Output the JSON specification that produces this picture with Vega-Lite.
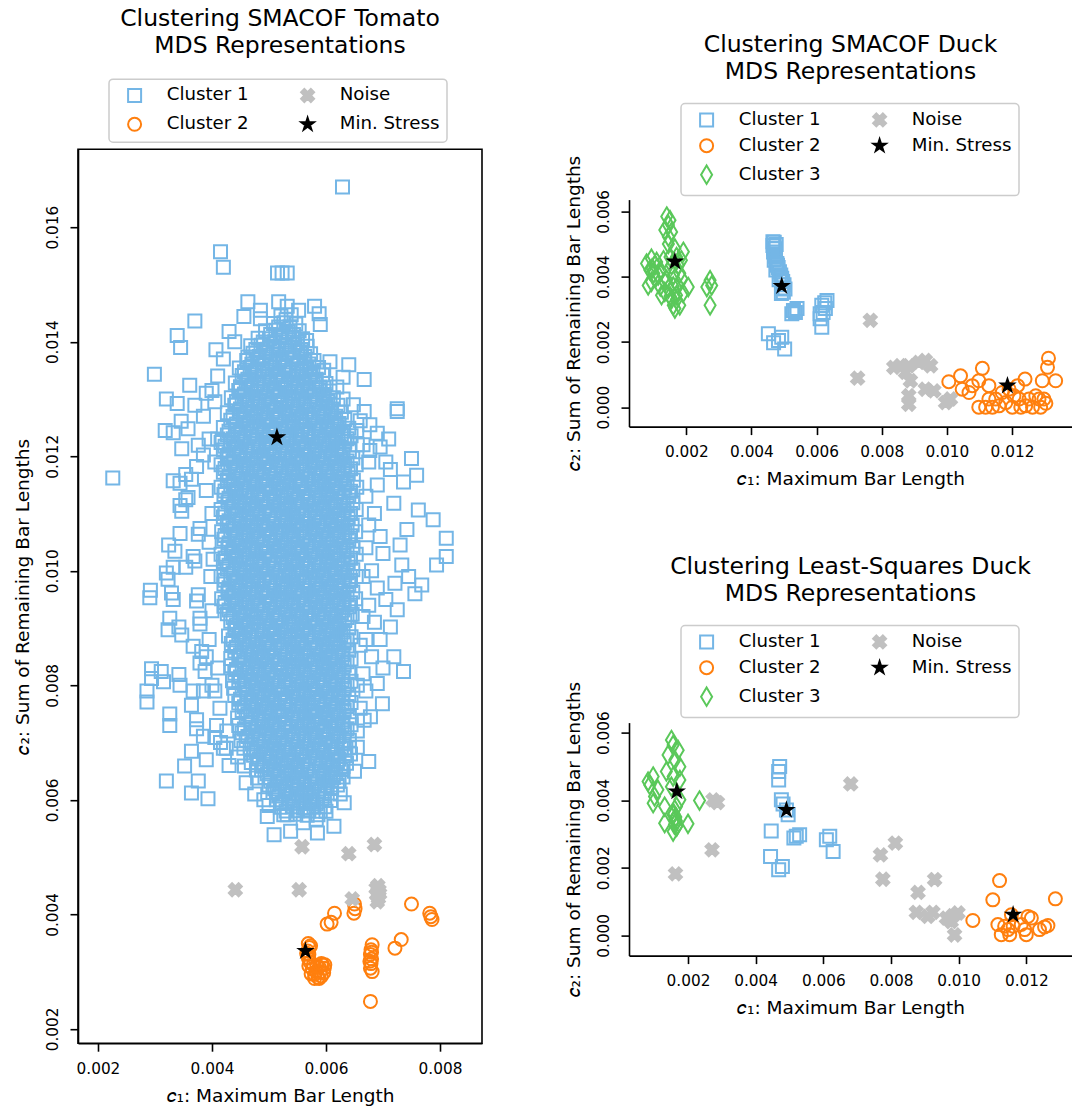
{
"$schema":"https://vega.github.io/schema/vega-lite/v6.json",
"background":"white",
"padding":{"left":12,"top":6,"right":0,"bottom":0},
"config":{
"font":"DejaVu Sans",
"view":{"stroke":null},
"axis":{"domainColor":"#000","domainWidth":1.6,"tickColor":"#000","tickWidth":1.6,"tickSize":8,"labelFontSize":15.3,"labelColor":"#000","titleFontSize":18.5,"titleFontWeight":"normal","titleColor":"#000","grid":false,"labelPadding":10,"titlePadding":10},
"axisY":{"labelAngle":270,"labelAlign":"center","labelBaseline":"alphabetic","labelPadding":13,"titlePadding":13},
"title":{"fontSize":23.5,"fontWeight":"normal","lineHeight":27,"color":"#000","anchor":"middle","offset":19},
"legend":{"orient":"none","columns":2,"labelFontSize":18.2,"labelColor":"#000","symbolSize":169,"symbolStrokeWidth":2,"padding":7,"rowPadding":7,"columnPadding":40,"labelOffset":23,"symbolOffset":9.5,"strokeColor":"#cccccc","strokeWidth":1.5,"fillColor":"#ffffff","cornerRadius":4,"labelLimit":300}
},
"datasets":{
"t1":[
{"x":0.00521,"y":0.01445},{"x":0.00539,"y":0.01447},
{"x":0.00508,"y":0.01432},{"x":0.00526,"y":0.01433},{"x":0.00547,"y":0.01431},
{"x":0.00494,"y":0.01419},{"x":0.00512,"y":0.0142},{"x":0.00534,"y":0.01418},{"x":0.00553,"y":0.01419},
{"x":0.00481,"y":0.01406},{"x":0.00501,"y":0.01405},{"x":0.0052,"y":0.01407},{"x":0.00541,"y":0.01406},{"x":0.00559,"y":0.01405},
{"x":0.00468,"y":0.01393},{"x":0.00486,"y":0.01394},{"x":0.00507,"y":0.01392},{"x":0.00528,"y":0.01393},{"x":0.00546,"y":0.01394},{"x":0.00567,"y":0.01392},
{"x":0.00472,"y":0.0138},{"x":0.00494,"y":0.01381},{"x":0.00513,"y":0.01379},{"x":0.00532,"y":0.0138},{"x":0.00554,"y":0.01381},{"x":0.00573,"y":0.01379},
{"x":0.00461,"y":0.01367},{"x":0.0048,"y":0.01368},{"x":0.00501,"y":0.01366},{"x":0.00519,"y":0.01367},{"x":0.0054,"y":0.01368},{"x":0.00561,"y":0.01366},{"x":0.00579,"y":0.01367},
{"x":0.00448,"y":0.01354},{"x":0.00467,"y":0.01355},{"x":0.00488,"y":0.01353},{"x":0.00506,"y":0.01354},{"x":0.00527,"y":0.01355},{"x":0.00548,"y":0.01353},{"x":0.00566,"y":0.01354},{"x":0.00587,"y":0.01355},
{"x":0.00453,"y":0.01341},{"x":0.00474,"y":0.01342},{"x":0.00492,"y":0.0134},{"x":0.00513,"y":0.01341},{"x":0.00534,"y":0.01342},{"x":0.00552,"y":0.0134},{"x":0.00573,"y":0.01341},{"x":0.00594,"y":0.01342},
{"x":0.00441,"y":0.01328},{"x":0.0046,"y":0.01329},{"x":0.0048,"y":0.01327},{"x":0.00501,"y":0.01328},{"x":0.0052,"y":0.01329},{"x":0.00539,"y":0.01327},{"x":0.0056,"y":0.01328},{"x":0.00581,"y":0.01329},{"x":0.006,"y":0.01327},
{"x":0.00447,"y":0.01315},{"x":0.00468,"y":0.01316},{"x":0.00486,"y":0.01314},{"x":0.00507,"y":0.01315},{"x":0.00528,"y":0.01316},{"x":0.00546,"y":0.01314},{"x":0.00567,"y":0.01315},{"x":0.00588,"y":0.01316},{"x":0.00607,"y":0.01314},
{"x":0.00434,"y":0.01302},{"x":0.00453,"y":0.01303},{"x":0.00472,"y":0.01301},{"x":0.00493,"y":0.01302},{"x":0.00514,"y":0.01303},{"x":0.00533,"y":0.01301},{"x":0.00552,"y":0.01302},{"x":0.00573,"y":0.01303},{"x":0.00594,"y":0.01301},{"x":0.00613,"y":0.01302},
{"x":0.0044,"y":0.01289},{"x":0.00461,"y":0.0129},{"x":0.0048,"y":0.01288},{"x":0.00499,"y":0.01289},{"x":0.0052,"y":0.0129},{"x":0.00541,"y":0.01288},{"x":0.0056,"y":0.01289},{"x":0.00579,"y":0.0129},{"x":0.006,"y":0.01288},{"x":0.00621,"y":0.01289},
{"x":0.00427,"y":0.01276},{"x":0.00448,"y":0.01277},{"x":0.00467,"y":0.01275},{"x":0.00486,"y":0.01276},{"x":0.00507,"y":0.01277},{"x":0.00528,"y":0.01275},{"x":0.00547,"y":0.01276},{"x":0.00566,"y":0.01277},{"x":0.00587,"y":0.01275},{"x":0.00608,"y":0.01276},{"x":0.00627,"y":0.01277},
{"x":0.00433,"y":0.01263},{"x":0.00454,"y":0.01264},{"x":0.00473,"y":0.01262},{"x":0.00492,"y":0.01263},{"x":0.00513,"y":0.01264},{"x":0.00534,"y":0.01262},{"x":0.00553,"y":0.01263},{"x":0.00572,"y":0.01264},{"x":0.00593,"y":0.01262},{"x":0.00614,"y":0.01263},{"x":0.00633,"y":0.01264},
{"x":0.0042,"y":0.0125},{"x":0.00441,"y":0.01251},{"x":0.0046,"y":0.01249},{"x":0.00479,"y":0.0125},{"x":0.005,"y":0.01251},{"x":0.00521,"y":0.01249},{"x":0.0054,"y":0.0125},{"x":0.00559,"y":0.01251},{"x":0.0058,"y":0.01249},{"x":0.00601,"y":0.0125},{"x":0.0062,"y":0.01251},{"x":0.0064,"y":0.01249},
{"x":0.00427,"y":0.01237},{"x":0.00446,"y":0.01238},{"x":0.00467,"y":0.01236},{"x":0.00488,"y":0.01237},{"x":0.00507,"y":0.01238},{"x":0.00526,"y":0.01236},{"x":0.00547,"y":0.01237},{"x":0.00568,"y":0.01238},{"x":0.00587,"y":0.01236},{"x":0.00606,"y":0.01237},{"x":0.00627,"y":0.01238},{"x":0.00644,"y":0.01236},
{"x":0.00416,"y":0.01224},{"x":0.00433,"y":0.01224},{"x":0.00452,"y":0.01225},{"x":0.00473,"y":0.01223},{"x":0.00494,"y":0.01224},{"x":0.00513,"y":0.01225},{"x":0.00532,"y":0.01223},{"x":0.00553,"y":0.01224},{"x":0.00574,"y":0.01225},{"x":0.00593,"y":0.01223},{"x":0.00612,"y":0.01224},{"x":0.00633,"y":0.01225},
{"x":0.0042,"y":0.01211},{"x":0.00439,"y":0.01212},{"x":0.0046,"y":0.0121},{"x":0.00481,"y":0.01211},{"x":0.005,"y":0.01212},{"x":0.00519,"y":0.0121},{"x":0.0054,"y":0.01211},{"x":0.00561,"y":0.01212},{"x":0.0058,"y":0.0121},{"x":0.00599,"y":0.01211},{"x":0.0062,"y":0.01212},{"x":0.00641,"y":0.0121},
{"x":0.00427,"y":0.01198},{"x":0.00448,"y":0.01199},{"x":0.00467,"y":0.01197},{"x":0.00486,"y":0.01198},{"x":0.00507,"y":0.01199},{"x":0.00528,"y":0.01197},{"x":0.00547,"y":0.01198},{"x":0.00566,"y":0.01199},{"x":0.00587,"y":0.01197},{"x":0.00608,"y":0.01198},{"x":0.00627,"y":0.01199},{"x":0.00647,"y":0.01197},
{"x":0.00416,"y":0.01185},{"x":0.00433,"y":0.01186},{"x":0.00454,"y":0.01184},{"x":0.00473,"y":0.01185},{"x":0.00492,"y":0.01186},{"x":0.00513,"y":0.01184},{"x":0.00534,"y":0.01185},{"x":0.00553,"y":0.01186},{"x":0.00572,"y":0.01184},{"x":0.00593,"y":0.01185},{"x":0.00614,"y":0.01186},{"x":0.00633,"y":0.01184},{"x":0.00653,"y":0.01185},
{"x":0.0042,"y":0.01172},{"x":0.00441,"y":0.01173},{"x":0.0046,"y":0.01171},{"x":0.00479,"y":0.01172},{"x":0.005,"y":0.01173},{"x":0.00521,"y":0.01171},{"x":0.0054,"y":0.01172},{"x":0.00559,"y":0.01173},{"x":0.0058,"y":0.01171},{"x":0.00601,"y":0.01172},{"x":0.0062,"y":0.01173},{"x":0.00639,"y":0.01171},
{"x":0.00427,"y":0.01159},{"x":0.00446,"y":0.0116},{"x":0.00467,"y":0.01158},{"x":0.00488,"y":0.01159},{"x":0.00507,"y":0.0116},{"x":0.00526,"y":0.01158},{"x":0.00547,"y":0.01159},{"x":0.00568,"y":0.0116},{"x":0.00587,"y":0.01158},{"x":0.00606,"y":0.01159},{"x":0.00627,"y":0.0116},{"x":0.00648,"y":0.01158},
{"x":0.00416,"y":0.01146},{"x":0.00433,"y":0.01147},{"x":0.00452,"y":0.01145},{"x":0.00473,"y":0.01146},{"x":0.00494,"y":0.01147},{"x":0.00513,"y":0.01145},{"x":0.00532,"y":0.01146},{"x":0.00553,"y":0.01147},{"x":0.00574,"y":0.01145},{"x":0.00593,"y":0.01146},{"x":0.00612,"y":0.01147},{"x":0.00633,"y":0.01145},{"x":0.00654,"y":0.01146},
{"x":0.00421,"y":0.01133},{"x":0.0044,"y":0.01134},{"x":0.00459,"y":0.01132},{"x":0.0048,"y":0.01133},{"x":0.00501,"y":0.01134},{"x":0.0052,"y":0.01132},{"x":0.00539,"y":0.01133},{"x":0.0056,"y":0.01134},{"x":0.00581,"y":0.01132},{"x":0.006,"y":0.01133},{"x":0.00619,"y":0.01134},{"x":0.0064,"y":0.01132},
{"x":0.00428,"y":0.0112},{"x":0.00447,"y":0.01121},{"x":0.00466,"y":0.01119},{"x":0.00487,"y":0.0112},{"x":0.00508,"y":0.01121},{"x":0.00527,"y":0.01119},{"x":0.00546,"y":0.0112},{"x":0.00567,"y":0.01121},{"x":0.00588,"y":0.01119},{"x":0.00607,"y":0.0112},{"x":0.00626,"y":0.01121},{"x":0.00647,"y":0.01119},
{"x":0.00416,"y":0.01107},{"x":0.00434,"y":0.01108},{"x":0.00453,"y":0.01106},{"x":0.00472,"y":0.01107},{"x":0.00493,"y":0.01108},{"x":0.00514,"y":0.01106},{"x":0.00533,"y":0.01107},{"x":0.00552,"y":0.01108},{"x":0.00573,"y":0.01106},{"x":0.00594,"y":0.01107},{"x":0.00613,"y":0.01108},{"x":0.00632,"y":0.01106},{"x":0.00653,"y":0.01107},
{"x":0.0042,"y":0.01094},{"x":0.00441,"y":0.01095},{"x":0.0046,"y":0.01093},{"x":0.00479,"y":0.01094},{"x":0.005,"y":0.01095},{"x":0.00521,"y":0.01093},{"x":0.0054,"y":0.01094},{"x":0.00559,"y":0.01095},{"x":0.0058,"y":0.01093},{"x":0.00601,"y":0.01094},{"x":0.0062,"y":0.01095},{"x":0.00639,"y":0.01093},
{"x":0.00427,"y":0.01081},{"x":0.00448,"y":0.01082},{"x":0.00467,"y":0.0108},{"x":0.00486,"y":0.01081},{"x":0.00507,"y":0.01082},{"x":0.00528,"y":0.0108},{"x":0.00547,"y":0.01081},{"x":0.00566,"y":0.01082},{"x":0.00587,"y":0.0108},{"x":0.00608,"y":0.01081},{"x":0.00627,"y":0.01082},{"x":0.00646,"y":0.0108},
{"x":0.00417,"y":0.01068},{"x":0.00433,"y":0.01069},{"x":0.00454,"y":0.01067},{"x":0.00473,"y":0.01068},{"x":0.00492,"y":0.01069},{"x":0.00513,"y":0.01067},{"x":0.00534,"y":0.01068},{"x":0.00553,"y":0.01069},{"x":0.00572,"y":0.01067},{"x":0.00593,"y":0.01068},{"x":0.00614,"y":0.01069},{"x":0.00633,"y":0.01067},{"x":0.00652,"y":0.01068},
{"x":0.00421,"y":0.01055},{"x":0.0044,"y":0.01056},{"x":0.00459,"y":0.01054},{"x":0.0048,"y":0.01055},{"x":0.00501,"y":0.01056},{"x":0.0052,"y":0.01054},{"x":0.00539,"y":0.01055},{"x":0.0056,"y":0.01056},{"x":0.00581,"y":0.01054},{"x":0.006,"y":0.01055},{"x":0.00619,"y":0.01056},{"x":0.0064,"y":0.01054},
{"x":0.00428,"y":0.01042},{"x":0.00447,"y":0.01043},{"x":0.00466,"y":0.01041},{"x":0.00487,"y":0.01042},{"x":0.00508,"y":0.01043},{"x":0.00527,"y":0.01041},{"x":0.00546,"y":0.01042},{"x":0.00567,"y":0.01043},{"x":0.00588,"y":0.01041},{"x":0.00607,"y":0.01042},{"x":0.00626,"y":0.01043},{"x":0.00647,"y":0.01041},
{"x":0.00416,"y":0.01029},{"x":0.00434,"y":0.0103},{"x":0.00453,"y":0.01028},{"x":0.00472,"y":0.01029},{"x":0.00493,"y":0.0103},{"x":0.00514,"y":0.01028},{"x":0.00533,"y":0.01029},{"x":0.00552,"y":0.0103},{"x":0.00573,"y":0.01028},{"x":0.00594,"y":0.01029},{"x":0.00613,"y":0.0103},{"x":0.00632,"y":0.01028},{"x":0.00653,"y":0.01029},
{"x":0.0042,"y":0.01016},{"x":0.00441,"y":0.01017},{"x":0.0046,"y":0.01015},{"x":0.00479,"y":0.01016},{"x":0.005,"y":0.01017},{"x":0.00521,"y":0.01015},{"x":0.0054,"y":0.01016},{"x":0.00559,"y":0.01017},{"x":0.0058,"y":0.01015},{"x":0.00601,"y":0.01016},{"x":0.0062,"y":0.01017},{"x":0.00639,"y":0.01015},
{"x":0.00427,"y":0.01003},{"x":0.00448,"y":0.01004},{"x":0.00467,"y":0.01002},{"x":0.00486,"y":0.01003},{"x":0.00507,"y":0.01004},{"x":0.00528,"y":0.01002},{"x":0.00547,"y":0.01003},{"x":0.00566,"y":0.01004},{"x":0.00587,"y":0.01002},{"x":0.00608,"y":0.01003},{"x":0.00627,"y":0.01004},{"x":0.00647,"y":0.01002},
{"x":0.00416,"y":0.0099},{"x":0.00433,"y":0.00991},{"x":0.00454,"y":0.00989},{"x":0.00473,"y":0.0099},{"x":0.00492,"y":0.00991},{"x":0.00513,"y":0.00989},{"x":0.00534,"y":0.0099},{"x":0.00553,"y":0.00991},{"x":0.00572,"y":0.00989},{"x":0.00593,"y":0.0099},{"x":0.00614,"y":0.00991},{"x":0.00633,"y":0.00989},{"x":0.00653,"y":0.0099},
{"x":0.00421,"y":0.00977},{"x":0.0044,"y":0.00978},{"x":0.00459,"y":0.00976},{"x":0.0048,"y":0.00977},{"x":0.00501,"y":0.00978},{"x":0.0052,"y":0.00976},{"x":0.00539,"y":0.00977},{"x":0.0056,"y":0.00978},{"x":0.00581,"y":0.00976},{"x":0.006,"y":0.00977},{"x":0.00619,"y":0.00978},{"x":0.0064,"y":0.00976},
{"x":0.00428,"y":0.00964},{"x":0.00447,"y":0.00965},{"x":0.00466,"y":0.00963},{"x":0.00487,"y":0.00964},{"x":0.00508,"y":0.00965},{"x":0.00527,"y":0.00963},{"x":0.00546,"y":0.00964},{"x":0.00567,"y":0.00965},{"x":0.00588,"y":0.00963},{"x":0.00607,"y":0.00964},{"x":0.00626,"y":0.00965},{"x":0.00647,"y":0.00963},
{"x":0.00417,"y":0.00951},{"x":0.00434,"y":0.00952},{"x":0.00453,"y":0.0095},{"x":0.00472,"y":0.00951},{"x":0.00493,"y":0.00952},{"x":0.00514,"y":0.0095},{"x":0.00533,"y":0.00951},{"x":0.00552,"y":0.00952},{"x":0.00573,"y":0.0095},{"x":0.00594,"y":0.00951},{"x":0.00613,"y":0.00952},{"x":0.00632,"y":0.0095},{"x":0.00652,"y":0.00951},
{"x":0.00421,"y":0.00938},{"x":0.0044,"y":0.00939},{"x":0.00459,"y":0.00937},{"x":0.0048,"y":0.00938},{"x":0.00501,"y":0.00939},{"x":0.0052,"y":0.00937},{"x":0.00539,"y":0.00938},{"x":0.0056,"y":0.00939},{"x":0.00581,"y":0.00937},{"x":0.006,"y":0.00938},{"x":0.00619,"y":0.00939},{"x":0.0064,"y":0.00937},
{"x":0.00427,"y":0.00925},{"x":0.00448,"y":0.00926},{"x":0.00467,"y":0.00924},{"x":0.00486,"y":0.00925},{"x":0.00507,"y":0.00926},{"x":0.00528,"y":0.00924},{"x":0.00547,"y":0.00925},{"x":0.00566,"y":0.00926},{"x":0.00587,"y":0.00924},{"x":0.00608,"y":0.00925},{"x":0.00627,"y":0.00926},{"x":0.00646,"y":0.00924},
{"x":0.00433,"y":0.00912},{"x":0.00454,"y":0.00913},{"x":0.00473,"y":0.00911},{"x":0.00492,"y":0.00912},{"x":0.00513,"y":0.00913},{"x":0.00534,"y":0.00911},{"x":0.00553,"y":0.00912},{"x":0.00572,"y":0.00913},{"x":0.00593,"y":0.00911},{"x":0.00614,"y":0.00912},{"x":0.00633,"y":0.00913},
{"x":0.0044,"y":0.00899},{"x":0.00459,"y":0.009},{"x":0.0048,"y":0.00898},{"x":0.00501,"y":0.00899},{"x":0.0052,"y":0.009},{"x":0.00539,"y":0.00898},{"x":0.0056,"y":0.00899},{"x":0.00581,"y":0.009},{"x":0.006,"y":0.00898},{"x":0.00619,"y":0.00899},{"x":0.0064,"y":0.009},
{"x":0.00429,"y":0.00886},{"x":0.00447,"y":0.00887},{"x":0.00466,"y":0.00885},{"x":0.00487,"y":0.00886},{"x":0.00508,"y":0.00887},{"x":0.00527,"y":0.00885},{"x":0.00546,"y":0.00886},{"x":0.00567,"y":0.00887},{"x":0.00588,"y":0.00885},{"x":0.00607,"y":0.00886},{"x":0.00626,"y":0.00887},{"x":0.00644,"y":0.00885},
{"x":0.00434,"y":0.00873},{"x":0.00453,"y":0.00874},{"x":0.00472,"y":0.00872},{"x":0.00493,"y":0.00873},{"x":0.00514,"y":0.00874},{"x":0.00533,"y":0.00872},{"x":0.00552,"y":0.00873},{"x":0.00573,"y":0.00874},{"x":0.00594,"y":0.00872},{"x":0.00613,"y":0.00873},{"x":0.00632,"y":0.00874},
{"x":0.0044,"y":0.0086},{"x":0.00461,"y":0.00861},{"x":0.0048,"y":0.00859},{"x":0.00499,"y":0.0086},{"x":0.0052,"y":0.00861},{"x":0.00541,"y":0.00859},{"x":0.0056,"y":0.0086},{"x":0.00579,"y":0.00861},{"x":0.006,"y":0.00859},{"x":0.00621,"y":0.0086},{"x":0.0064,"y":0.00861},
{"x":0.00433,"y":0.00847},{"x":0.00447,"y":0.00848},{"x":0.00468,"y":0.00846},{"x":0.00487,"y":0.00847},{"x":0.00506,"y":0.00848},{"x":0.00527,"y":0.00846},{"x":0.00548,"y":0.00847},{"x":0.00567,"y":0.00848},{"x":0.00586,"y":0.00846},{"x":0.00607,"y":0.00847},{"x":0.00628,"y":0.00848},{"x":0.00644,"y":0.00846},
{"x":0.00434,"y":0.00834},{"x":0.00453,"y":0.00835},{"x":0.00472,"y":0.00833},{"x":0.00493,"y":0.00834},{"x":0.00514,"y":0.00835},{"x":0.00533,"y":0.00833},{"x":0.00552,"y":0.00834},{"x":0.00573,"y":0.00835},{"x":0.00594,"y":0.00833},{"x":0.00613,"y":0.00834},{"x":0.00632,"y":0.00835},
{"x":0.0044,"y":0.00821},{"x":0.00461,"y":0.00822},{"x":0.0048,"y":0.0082},{"x":0.00499,"y":0.00821},{"x":0.0052,"y":0.00822},{"x":0.00541,"y":0.0082},{"x":0.0056,"y":0.00821},{"x":0.00579,"y":0.00822},{"x":0.006,"y":0.0082},{"x":0.00621,"y":0.00821},{"x":0.0064,"y":0.00822},
{"x":0.00436,"y":0.00808},{"x":0.00447,"y":0.00809},{"x":0.00468,"y":0.00807},{"x":0.00487,"y":0.00808},{"x":0.00506,"y":0.00809},{"x":0.00527,"y":0.00807},{"x":0.00548,"y":0.00808},{"x":0.00567,"y":0.00809},{"x":0.00586,"y":0.00807},{"x":0.00607,"y":0.00808},{"x":0.00628,"y":0.00809},{"x":0.00644,"y":0.00807},
{"x":0.00438,"y":0.00795},{"x":0.00453,"y":0.00795},{"x":0.00472,"y":0.00796},{"x":0.00493,"y":0.00794},{"x":0.00514,"y":0.00795},{"x":0.00533,"y":0.00796},{"x":0.00552,"y":0.00794},{"x":0.00573,"y":0.00795},{"x":0.00594,"y":0.00796},{"x":0.00613,"y":0.00794},{"x":0.00632,"y":0.00795},
{"x":0.0044,"y":0.00782},{"x":0.00461,"y":0.00783},{"x":0.0048,"y":0.00781},{"x":0.00499,"y":0.00782},{"x":0.0052,"y":0.00783},{"x":0.00541,"y":0.00781},{"x":0.0056,"y":0.00782},{"x":0.00579,"y":0.00783},{"x":0.006,"y":0.00781},{"x":0.00621,"y":0.00782},{"x":0.0064,"y":0.00783},
{"x":0.00447,"y":0.00769},{"x":0.00468,"y":0.0077},{"x":0.00487,"y":0.00768},{"x":0.00506,"y":0.00769},{"x":0.00527,"y":0.0077},{"x":0.00548,"y":0.00768},{"x":0.00567,"y":0.00769},{"x":0.00586,"y":0.0077},{"x":0.00607,"y":0.00768},{"x":0.00628,"y":0.00769},{"x":0.00644,"y":0.0077},
{"x":0.00453,"y":0.00756},{"x":0.00472,"y":0.00757},{"x":0.00493,"y":0.00755},{"x":0.00514,"y":0.00756},{"x":0.00533,"y":0.00757},{"x":0.00552,"y":0.00755},{"x":0.00573,"y":0.00756},{"x":0.00594,"y":0.00757},{"x":0.00613,"y":0.00755},{"x":0.00632,"y":0.00756},
{"x":0.00445,"y":0.00743},{"x":0.0046,"y":0.00744},{"x":0.00481,"y":0.00742},{"x":0.005,"y":0.00743},{"x":0.00519,"y":0.00744},{"x":0.0054,"y":0.00742},{"x":0.00561,"y":0.00743},{"x":0.0058,"y":0.00744},{"x":0.00599,"y":0.00742},{"x":0.0062,"y":0.00743},{"x":0.00641,"y":0.00744},
{"x":0.00447,"y":0.0073},{"x":0.00468,"y":0.00731},{"x":0.00487,"y":0.00729},{"x":0.00506,"y":0.0073},{"x":0.00527,"y":0.00731},{"x":0.00548,"y":0.00729},{"x":0.00567,"y":0.0073},{"x":0.00586,"y":0.00731},{"x":0.00607,"y":0.00729},{"x":0.00628,"y":0.0073},{"x":0.00644,"y":0.00731},
{"x":0.00453,"y":0.00717},{"x":0.00472,"y":0.00718},{"x":0.00493,"y":0.00716},{"x":0.00514,"y":0.00717},{"x":0.00533,"y":0.00718},{"x":0.00552,"y":0.00716},{"x":0.00573,"y":0.00717},{"x":0.00594,"y":0.00718},{"x":0.00613,"y":0.00716},{"x":0.00632,"y":0.00717},
{"x":0.00451,"y":0.00703},{"x":0.0046,"y":0.00704},{"x":0.00481,"y":0.00705},{"x":0.005,"y":0.00703},{"x":0.00519,"y":0.00704},{"x":0.0054,"y":0.00705},{"x":0.00561,"y":0.00703},{"x":0.0058,"y":0.00704},{"x":0.00599,"y":0.00705},{"x":0.0062,"y":0.00703},{"x":0.00641,"y":0.00704},
{"x":0.00456,"y":0.0069},{"x":0.00467,"y":0.00691},{"x":0.00486,"y":0.00692},{"x":0.00507,"y":0.0069},{"x":0.00528,"y":0.00691},{"x":0.00547,"y":0.00692},{"x":0.00566,"y":0.0069},{"x":0.00587,"y":0.00691},{"x":0.00608,"y":0.00692},{"x":0.00627,"y":0.0069},{"x":0.00641,"y":0.00691},
{"x":0.00473,"y":0.00678},{"x":0.00492,"y":0.00679},{"x":0.00513,"y":0.00677},{"x":0.00534,"y":0.00678},{"x":0.00553,"y":0.00679},{"x":0.00572,"y":0.00677},{"x":0.00593,"y":0.00678},{"x":0.00614,"y":0.00679},{"x":0.00633,"y":0.00677},
{"x":0.00469,"y":0.00665},{"x":0.0048,"y":0.00665},{"x":0.00501,"y":0.00666},{"x":0.0052,"y":0.00664},{"x":0.00539,"y":0.00665},{"x":0.0056,"y":0.00666},{"x":0.00581,"y":0.00664},{"x":0.006,"y":0.00665},{"x":0.00619,"y":0.00666},{"x":0.00636,"y":0.00664},
{"x":0.00478,"y":0.00652},{"x":0.00487,"y":0.00652},{"x":0.00508,"y":0.00653},{"x":0.00527,"y":0.00651},{"x":0.00546,"y":0.00652},{"x":0.00567,"y":0.00653},{"x":0.00588,"y":0.00651},{"x":0.00607,"y":0.00652},{"x":0.00626,"y":0.00653},
{"x":0.00493,"y":0.00639},{"x":0.00514,"y":0.0064},{"x":0.00533,"y":0.00638},{"x":0.00552,"y":0.00639},{"x":0.00573,"y":0.0064},{"x":0.00594,"y":0.00638},{"x":0.00613,"y":0.00639},{"x":0.0063,"y":0.0064},
{"x":0.005,"y":0.00626},{"x":0.00519,"y":0.00627},{"x":0.0054,"y":0.00625},{"x":0.00561,"y":0.00626},{"x":0.0058,"y":0.00627},{"x":0.00599,"y":0.00625},{"x":0.0062,"y":0.00626},
{"x":0.00507,"y":0.00613},{"x":0.00528,"y":0.00614},{"x":0.00547,"y":0.00612},{"x":0.00566,"y":0.00613},{"x":0.00587,"y":0.00614},{"x":0.00608,"y":0.00612},
{"x":0.00513,"y":0.006},{"x":0.00534,"y":0.00601},{"x":0.00553,"y":0.00599},{"x":0.00572,"y":0.006},{"x":0.00593,"y":0.00601},{"x":0.00608,"y":0.00599},
{"x":0.0052,"y":0.00587},{"x":0.00541,"y":0.00588},{"x":0.0056,"y":0.00586},{"x":0.00579,"y":0.00587},{"x":0.00598,"y":0.00588},
{"x":0.00532,"y":0.00574},{"x":0.00547,"y":0.00575},{"x":0.00567,"y":0.00573},{"x":0.00586,"y":0.00574},
{"x":0.0053,"y":0.014385},
{"x":0.00517,"y":0.014255},{"x":0.00537,"y":0.01426},
{"x":0.00503,"y":0.014125},{"x":0.00523,"y":0.01412},{"x":0.00543,"y":0.014125},
{"x":0.0049,"y":0.013995},{"x":0.0051,"y":0.014},{"x":0.0053,"y":0.013995},{"x":0.0055,"y":0.01399},
{"x":0.00477,"y":0.013865},{"x":0.00497,"y":0.01387},{"x":0.00517,"y":0.013865},{"x":0.00537,"y":0.01386},{"x":0.00557,"y":0.013865},
{"x":0.00463,"y":0.013735},{"x":0.00483,"y":0.01374},{"x":0.00503,"y":0.013735},{"x":0.00523,"y":0.01373},{"x":0.00543,"y":0.013735},{"x":0.00563,"y":0.01374},
{"x":0.0047,"y":0.013605},{"x":0.0049,"y":0.01361},{"x":0.0051,"y":0.013605},{"x":0.0053,"y":0.0136},{"x":0.0055,"y":0.013605},{"x":0.0057,"y":0.01361},
{"x":0.00457,"y":0.013475},{"x":0.00477,"y":0.01348},{"x":0.00497,"y":0.013475},{"x":0.00517,"y":0.01347},{"x":0.00537,"y":0.013475},{"x":0.00557,"y":0.01348},{"x":0.00577,"y":0.013475},
{"x":0.00463,"y":0.013345},{"x":0.00483,"y":0.01335},{"x":0.00503,"y":0.013345},{"x":0.00523,"y":0.01334},{"x":0.00543,"y":0.013345},{"x":0.00563,"y":0.01335},{"x":0.00583,"y":0.013345},
{"x":0.0045,"y":0.013215},{"x":0.0047,"y":0.01322},{"x":0.0049,"y":0.013215},{"x":0.0051,"y":0.01321},{"x":0.0053,"y":0.013215},{"x":0.0055,"y":0.01322},{"x":0.0057,"y":0.013215},{"x":0.0059,"y":0.01321},
{"x":0.00457,"y":0.013085},{"x":0.00477,"y":0.01309},{"x":0.00497,"y":0.013085},{"x":0.00517,"y":0.01308},{"x":0.00537,"y":0.013085},{"x":0.00557,"y":0.01309},{"x":0.00577,"y":0.013085},{"x":0.00597,"y":0.01308},
{"x":0.00443,"y":0.012955},{"x":0.00463,"y":0.01296},{"x":0.00483,"y":0.012955},{"x":0.00503,"y":0.01295},{"x":0.00523,"y":0.012955},{"x":0.00543,"y":0.01296},{"x":0.00563,"y":0.012955},{"x":0.00583,"y":0.01295},{"x":0.00603,"y":0.012955},
{"x":0.0045,"y":0.012825},{"x":0.0047,"y":0.01283},{"x":0.0049,"y":0.012825},{"x":0.0051,"y":0.01282},{"x":0.0053,"y":0.012825},{"x":0.0055,"y":0.01283},{"x":0.0057,"y":0.012825},{"x":0.0059,"y":0.01282},{"x":0.0061,"y":0.012825},
{"x":0.00437,"y":0.012695},{"x":0.00457,"y":0.0127},{"x":0.00477,"y":0.012695},{"x":0.00497,"y":0.01269},{"x":0.00517,"y":0.012695},{"x":0.00537,"y":0.0127},{"x":0.00557,"y":0.012695},{"x":0.00577,"y":0.01269},{"x":0.00597,"y":0.012695},{"x":0.00617,"y":0.0127},
{"x":0.00443,"y":0.012565},{"x":0.00463,"y":0.01257},{"x":0.00483,"y":0.012565},{"x":0.00503,"y":0.01256},{"x":0.00523,"y":0.012565},{"x":0.00543,"y":0.01257},{"x":0.00563,"y":0.012565},{"x":0.00583,"y":0.01256},{"x":0.00603,"y":0.012565},{"x":0.00623,"y":0.01257},
{"x":0.0043,"y":0.012435},{"x":0.0045,"y":0.01244},{"x":0.0047,"y":0.012435},{"x":0.0049,"y":0.01243},{"x":0.0051,"y":0.012435},{"x":0.0053,"y":0.01244},{"x":0.0055,"y":0.012435},{"x":0.0057,"y":0.01243},{"x":0.0059,"y":0.012435},{"x":0.0061,"y":0.01244},{"x":0.0063,"y":0.012435},
{"x":0.00437,"y":0.012305},{"x":0.00457,"y":0.01231},{"x":0.00477,"y":0.012305},{"x":0.00497,"y":0.0123},{"x":0.00517,"y":0.012305},{"x":0.00537,"y":0.01231},{"x":0.00557,"y":0.012305},{"x":0.00577,"y":0.0123},{"x":0.00597,"y":0.012305},{"x":0.00617,"y":0.01231},{"x":0.00637,"y":0.012305},
{"x":0.00423,"y":0.012175},{"x":0.00443,"y":0.01218},{"x":0.00463,"y":0.012175},{"x":0.00483,"y":0.01217},{"x":0.00503,"y":0.012175},{"x":0.00523,"y":0.01218},{"x":0.00543,"y":0.012175},{"x":0.00563,"y":0.01217},{"x":0.00583,"y":0.012175},{"x":0.00603,"y":0.01218},{"x":0.00623,"y":0.012175},
{"x":0.0043,"y":0.012045},{"x":0.0045,"y":0.01205},{"x":0.0047,"y":0.012045},{"x":0.0049,"y":0.01204},{"x":0.0051,"y":0.012045},{"x":0.0053,"y":0.01205},{"x":0.0055,"y":0.012045},{"x":0.0057,"y":0.01204},{"x":0.0059,"y":0.012045},{"x":0.0061,"y":0.01205},{"x":0.0063,"y":0.012045},
{"x":0.00437,"y":0.011915},{"x":0.00457,"y":0.01192},{"x":0.00477,"y":0.011915},{"x":0.00497,"y":0.01191},{"x":0.00517,"y":0.011915},{"x":0.00537,"y":0.01192},{"x":0.00557,"y":0.011915},{"x":0.00577,"y":0.01191},{"x":0.00597,"y":0.011915},{"x":0.00617,"y":0.01192},{"x":0.00637,"y":0.011915},
{"x":0.00423,"y":0.011785},{"x":0.00443,"y":0.01179},{"x":0.00463,"y":0.011785},{"x":0.00483,"y":0.01178},{"x":0.00503,"y":0.011785},{"x":0.00523,"y":0.01179},{"x":0.00543,"y":0.011785},{"x":0.00563,"y":0.01178},{"x":0.00583,"y":0.011785},{"x":0.00603,"y":0.01179},{"x":0.00623,"y":0.011785},{"x":0.00643,"y":0.01178},
{"x":0.0043,"y":0.011655},{"x":0.0045,"y":0.01166},{"x":0.0047,"y":0.011655},{"x":0.0049,"y":0.01165},{"x":0.0051,"y":0.011655},{"x":0.0053,"y":0.01166},{"x":0.0055,"y":0.011655},{"x":0.0057,"y":0.01165},{"x":0.0059,"y":0.011655},{"x":0.0061,"y":0.01166},{"x":0.0063,"y":0.011655},
{"x":0.00437,"y":0.011525},{"x":0.00457,"y":0.01153},{"x":0.00477,"y":0.011525},{"x":0.00497,"y":0.01152},{"x":0.00517,"y":0.011525},{"x":0.00537,"y":0.01153},{"x":0.00557,"y":0.011525},{"x":0.00577,"y":0.01152},{"x":0.00597,"y":0.011525},{"x":0.00617,"y":0.01153},{"x":0.00637,"y":0.011525},
{"x":0.00423,"y":0.011395},{"x":0.00443,"y":0.0114},{"x":0.00463,"y":0.011395},{"x":0.00483,"y":0.01139},{"x":0.00503,"y":0.011395},{"x":0.00523,"y":0.0114},{"x":0.00543,"y":0.011395},{"x":0.00563,"y":0.01139},{"x":0.00583,"y":0.011395},{"x":0.00603,"y":0.0114},{"x":0.00623,"y":0.011395},{"x":0.00643,"y":0.01139},
{"x":0.0043,"y":0.011265},{"x":0.0045,"y":0.01127},{"x":0.0047,"y":0.011265},{"x":0.0049,"y":0.01126},{"x":0.0051,"y":0.011265},{"x":0.0053,"y":0.01127},{"x":0.0055,"y":0.011265},{"x":0.0057,"y":0.01126},{"x":0.0059,"y":0.011265},{"x":0.0061,"y":0.01127},{"x":0.0063,"y":0.011265},
{"x":0.00437,"y":0.011135},{"x":0.00457,"y":0.01114},{"x":0.00477,"y":0.011135},{"x":0.00497,"y":0.01113},{"x":0.00517,"y":0.011135},{"x":0.00537,"y":0.01114},{"x":0.00557,"y":0.011135},{"x":0.00577,"y":0.01113},{"x":0.00597,"y":0.011135},{"x":0.00617,"y":0.01114},{"x":0.00637,"y":0.011135},
{"x":0.00423,"y":0.011005},{"x":0.00443,"y":0.01101},{"x":0.00463,"y":0.011005},{"x":0.00483,"y":0.011},{"x":0.00503,"y":0.011005},{"x":0.00523,"y":0.01101},{"x":0.00543,"y":0.011005},{"x":0.00563,"y":0.011},{"x":0.00583,"y":0.011005},{"x":0.00603,"y":0.01101},{"x":0.00623,"y":0.011005},{"x":0.00643,"y":0.011},
{"x":0.0043,"y":0.010875},{"x":0.0045,"y":0.01088},{"x":0.0047,"y":0.010875},{"x":0.0049,"y":0.01087},{"x":0.0051,"y":0.010875},{"x":0.0053,"y":0.01088},{"x":0.0055,"y":0.010875},{"x":0.0057,"y":0.01087},{"x":0.0059,"y":0.010875},{"x":0.0061,"y":0.01088},{"x":0.0063,"y":0.010875},
{"x":0.00437,"y":0.010745},{"x":0.00457,"y":0.01075},{"x":0.00477,"y":0.010745},{"x":0.00497,"y":0.01074},{"x":0.00517,"y":0.010745},{"x":0.00537,"y":0.01075},{"x":0.00557,"y":0.010745},{"x":0.00577,"y":0.01074},{"x":0.00597,"y":0.010745},{"x":0.00617,"y":0.01075},{"x":0.00637,"y":0.010745},
{"x":0.00423,"y":0.010615},{"x":0.00443,"y":0.01062},{"x":0.00463,"y":0.010615},{"x":0.00483,"y":0.01061},{"x":0.00503,"y":0.010615},{"x":0.00523,"y":0.01062},{"x":0.00543,"y":0.010615},{"x":0.00563,"y":0.01061},{"x":0.00583,"y":0.010615},{"x":0.00603,"y":0.01062},{"x":0.00623,"y":0.010615},{"x":0.00643,"y":0.01061},
{"x":0.0043,"y":0.010485},{"x":0.0045,"y":0.01049},{"x":0.0047,"y":0.010485},{"x":0.0049,"y":0.01048},{"x":0.0051,"y":0.010485},{"x":0.0053,"y":0.01049},{"x":0.0055,"y":0.010485},{"x":0.0057,"y":0.01048},{"x":0.0059,"y":0.010485},{"x":0.0061,"y":0.01049},{"x":0.0063,"y":0.010485},
{"x":0.00437,"y":0.010355},{"x":0.00457,"y":0.01036},{"x":0.00477,"y":0.010355},{"x":0.00497,"y":0.01035},{"x":0.00517,"y":0.010355},{"x":0.00537,"y":0.01036},{"x":0.00557,"y":0.010355},{"x":0.00577,"y":0.01035},{"x":0.00597,"y":0.010355},{"x":0.00617,"y":0.01036},{"x":0.00637,"y":0.010355},
{"x":0.00423,"y":0.010225},{"x":0.00443,"y":0.01023},{"x":0.00463,"y":0.010225},{"x":0.00483,"y":0.01022},{"x":0.00503,"y":0.010225},{"x":0.00523,"y":0.01023},{"x":0.00543,"y":0.010225},{"x":0.00563,"y":0.01022},{"x":0.00583,"y":0.010225},{"x":0.00603,"y":0.01023},{"x":0.00623,"y":0.010225},{"x":0.00643,"y":0.01022},
{"x":0.0043,"y":0.010095},{"x":0.0045,"y":0.0101},{"x":0.0047,"y":0.010095},{"x":0.0049,"y":0.01009},{"x":0.0051,"y":0.010095},{"x":0.0053,"y":0.0101},{"x":0.0055,"y":0.010095},{"x":0.0057,"y":0.01009},{"x":0.0059,"y":0.010095},{"x":0.0061,"y":0.0101},{"x":0.0063,"y":0.010095},
{"x":0.00437,"y":0.009965},{"x":0.00457,"y":0.00997},{"x":0.00477,"y":0.009965},{"x":0.00497,"y":0.00996},{"x":0.00517,"y":0.009965},{"x":0.00537,"y":0.00997},{"x":0.00557,"y":0.009965},{"x":0.00577,"y":0.00996},{"x":0.00597,"y":0.009965},{"x":0.00617,"y":0.00997},{"x":0.00637,"y":0.009965},
{"x":0.00423,"y":0.009835},{"x":0.00443,"y":0.00984},{"x":0.00463,"y":0.009835},{"x":0.00483,"y":0.00983},{"x":0.00503,"y":0.009835},{"x":0.00523,"y":0.00984},{"x":0.00543,"y":0.009835},{"x":0.00563,"y":0.00983},{"x":0.00583,"y":0.009835},{"x":0.00603,"y":0.00984},{"x":0.00623,"y":0.009835},{"x":0.00643,"y":0.00983},
{"x":0.0043,"y":0.009705},{"x":0.0045,"y":0.00971},{"x":0.0047,"y":0.009705},{"x":0.0049,"y":0.0097},{"x":0.0051,"y":0.009705},{"x":0.0053,"y":0.00971},{"x":0.0055,"y":0.009705},{"x":0.0057,"y":0.0097},{"x":0.0059,"y":0.009705},{"x":0.0061,"y":0.00971},{"x":0.0063,"y":0.009705},
{"x":0.00437,"y":0.009575},{"x":0.00457,"y":0.00958},{"x":0.00477,"y":0.009575},{"x":0.00497,"y":0.00957},{"x":0.00517,"y":0.009575},{"x":0.00537,"y":0.00958},{"x":0.00557,"y":0.009575},{"x":0.00577,"y":0.00957},{"x":0.00597,"y":0.009575},{"x":0.00617,"y":0.00958},{"x":0.00637,"y":0.009575},
{"x":0.00423,"y":0.009445},{"x":0.00443,"y":0.00945},{"x":0.00463,"y":0.009445},{"x":0.00483,"y":0.00944},{"x":0.00503,"y":0.009445},{"x":0.00523,"y":0.00945},{"x":0.00543,"y":0.009445},{"x":0.00563,"y":0.00944},{"x":0.00583,"y":0.009445},{"x":0.00603,"y":0.00945},{"x":0.00623,"y":0.009445},{"x":0.00643,"y":0.00944},
{"x":0.0043,"y":0.009315},{"x":0.0045,"y":0.00932},{"x":0.0047,"y":0.009315},{"x":0.0049,"y":0.00931},{"x":0.0051,"y":0.009315},{"x":0.0053,"y":0.00932},{"x":0.0055,"y":0.009315},{"x":0.0057,"y":0.00931},{"x":0.0059,"y":0.009315},{"x":0.0061,"y":0.00932},{"x":0.0063,"y":0.009315},
{"x":0.00437,"y":0.009185},{"x":0.00457,"y":0.00919},{"x":0.00477,"y":0.009185},{"x":0.00497,"y":0.00918},{"x":0.00517,"y":0.009185},{"x":0.00537,"y":0.00919},{"x":0.00557,"y":0.009185},{"x":0.00577,"y":0.00918},{"x":0.00597,"y":0.009185},{"x":0.00617,"y":0.00919},{"x":0.00637,"y":0.009185},
{"x":0.00443,"y":0.009055},{"x":0.00463,"y":0.00906},{"x":0.00483,"y":0.009055},{"x":0.00503,"y":0.00905},{"x":0.00523,"y":0.009055},{"x":0.00543,"y":0.00906},{"x":0.00563,"y":0.009055},{"x":0.00583,"y":0.00905},{"x":0.00603,"y":0.009055},{"x":0.00623,"y":0.00906},
{"x":0.0045,"y":0.008925},{"x":0.0047,"y":0.00893},{"x":0.0049,"y":0.008925},{"x":0.0051,"y":0.00892},{"x":0.0053,"y":0.008925},{"x":0.0055,"y":0.00893},{"x":0.0057,"y":0.008925},{"x":0.0059,"y":0.00892},{"x":0.0061,"y":0.008925},{"x":0.0063,"y":0.00893},
{"x":0.00437,"y":0.008795},{"x":0.00457,"y":0.0088},{"x":0.00477,"y":0.008795},{"x":0.00497,"y":0.00879},{"x":0.00517,"y":0.008795},{"x":0.00537,"y":0.0088},{"x":0.00557,"y":0.008795},{"x":0.00577,"y":0.00879},{"x":0.00597,"y":0.008795},{"x":0.00617,"y":0.0088},{"x":0.00637,"y":0.008795},
{"x":0.00443,"y":0.008665},{"x":0.00463,"y":0.00867},{"x":0.00483,"y":0.008665},{"x":0.00503,"y":0.00866},{"x":0.00523,"y":0.008665},{"x":0.00543,"y":0.00867},{"x":0.00563,"y":0.008665},{"x":0.00583,"y":0.00866},{"x":0.00603,"y":0.008665},{"x":0.00623,"y":0.00867},
{"x":0.0045,"y":0.008535},{"x":0.0047,"y":0.00854},{"x":0.0049,"y":0.008535},{"x":0.0051,"y":0.00853},{"x":0.0053,"y":0.008535},{"x":0.0055,"y":0.00854},{"x":0.0057,"y":0.008535},{"x":0.0059,"y":0.00853},{"x":0.0061,"y":0.008535},{"x":0.0063,"y":0.00854},
{"x":0.00457,"y":0.008405},{"x":0.00477,"y":0.00841},{"x":0.00497,"y":0.008405},{"x":0.00517,"y":0.0084},{"x":0.00537,"y":0.008405},{"x":0.00557,"y":0.00841},{"x":0.00577,"y":0.008405},{"x":0.00597,"y":0.0084},{"x":0.00617,"y":0.008405},{"x":0.00637,"y":0.00841},
{"x":0.00443,"y":0.008275},{"x":0.00463,"y":0.00828},{"x":0.00483,"y":0.008275},{"x":0.00503,"y":0.00827},{"x":0.00523,"y":0.008275},{"x":0.00543,"y":0.00828},{"x":0.00563,"y":0.008275},{"x":0.00583,"y":0.00827},{"x":0.00603,"y":0.008275},{"x":0.00623,"y":0.00828},
{"x":0.0045,"y":0.008145},{"x":0.0047,"y":0.00815},{"x":0.0049,"y":0.008145},{"x":0.0051,"y":0.00814},{"x":0.0053,"y":0.008145},{"x":0.0055,"y":0.00815},{"x":0.0057,"y":0.008145},{"x":0.0059,"y":0.00814},{"x":0.0061,"y":0.008145},{"x":0.0063,"y":0.00815},
{"x":0.00457,"y":0.008015},{"x":0.00477,"y":0.00802},{"x":0.00497,"y":0.008015},{"x":0.00517,"y":0.00801},{"x":0.00537,"y":0.008015},{"x":0.00557,"y":0.00802},{"x":0.00577,"y":0.008015},{"x":0.00597,"y":0.00801},{"x":0.00617,"y":0.008015},{"x":0.00637,"y":0.00802},
{"x":0.00463,"y":0.007885},{"x":0.00483,"y":0.00789},{"x":0.00503,"y":0.007885},{"x":0.00523,"y":0.00788},{"x":0.00543,"y":0.007885},{"x":0.00563,"y":0.00789},{"x":0.00583,"y":0.007885},{"x":0.00603,"y":0.00788},{"x":0.00623,"y":0.007885},
{"x":0.0045,"y":0.007755},{"x":0.0047,"y":0.00776},{"x":0.0049,"y":0.007755},{"x":0.0051,"y":0.00775},{"x":0.0053,"y":0.007755},{"x":0.0055,"y":0.00776},{"x":0.0057,"y":0.007755},{"x":0.0059,"y":0.00775},{"x":0.0061,"y":0.007755},{"x":0.0063,"y":0.00776},
{"x":0.00457,"y":0.007625},{"x":0.00477,"y":0.00763},{"x":0.00497,"y":0.007625},{"x":0.00517,"y":0.00762},{"x":0.00537,"y":0.007625},{"x":0.00557,"y":0.00763},{"x":0.00577,"y":0.007625},{"x":0.00597,"y":0.00762},{"x":0.00617,"y":0.007625},{"x":0.00637,"y":0.00763},
{"x":0.00463,"y":0.007495},{"x":0.00483,"y":0.0075},{"x":0.00503,"y":0.007495},{"x":0.00523,"y":0.00749},{"x":0.00543,"y":0.007495},{"x":0.00563,"y":0.0075},{"x":0.00583,"y":0.007495},{"x":0.00603,"y":0.00749},{"x":0.00623,"y":0.007495},
{"x":0.0047,"y":0.007365},{"x":0.0049,"y":0.00737},{"x":0.0051,"y":0.007365},{"x":0.0053,"y":0.00736},{"x":0.0055,"y":0.007365},{"x":0.0057,"y":0.00737},{"x":0.0059,"y":0.007365},{"x":0.0061,"y":0.00736},{"x":0.0063,"y":0.007365},
{"x":0.00457,"y":0.007235},{"x":0.00477,"y":0.00724},{"x":0.00497,"y":0.007235},{"x":0.00517,"y":0.00723},{"x":0.00537,"y":0.007235},{"x":0.00557,"y":0.00724},{"x":0.00577,"y":0.007235},{"x":0.00597,"y":0.00723},{"x":0.00617,"y":0.007235},{"x":0.00637,"y":0.00724},
{"x":0.00463,"y":0.007105},{"x":0.00483,"y":0.00711},{"x":0.00503,"y":0.007105},{"x":0.00523,"y":0.0071},{"x":0.00543,"y":0.007105},{"x":0.00563,"y":0.00711},{"x":0.00583,"y":0.007105},{"x":0.00603,"y":0.0071},{"x":0.00623,"y":0.007105},
{"x":0.0047,"y":0.006975},{"x":0.0049,"y":0.00698},{"x":0.0051,"y":0.006975},{"x":0.0053,"y":0.00697},{"x":0.0055,"y":0.006975},{"x":0.0057,"y":0.00698},{"x":0.0059,"y":0.006975},{"x":0.0061,"y":0.00697},{"x":0.0063,"y":0.006975},
{"x":0.00477,"y":0.006845},{"x":0.00497,"y":0.00685},{"x":0.00517,"y":0.006845},{"x":0.00537,"y":0.00684},{"x":0.00557,"y":0.006845},{"x":0.00577,"y":0.00685},{"x":0.00597,"y":0.006845},{"x":0.00617,"y":0.00684},
{"x":0.00483,"y":0.006715},{"x":0.00503,"y":0.00672},{"x":0.00523,"y":0.006715},{"x":0.00543,"y":0.00671},{"x":0.00563,"y":0.006715},{"x":0.00583,"y":0.00672},{"x":0.00603,"y":0.006715},{"x":0.00623,"y":0.00671},
{"x":0.0049,"y":0.006585},{"x":0.0051,"y":0.00659},{"x":0.0053,"y":0.006585},{"x":0.0055,"y":0.00658},{"x":0.0057,"y":0.006585},{"x":0.0059,"y":0.00659},{"x":0.0061,"y":0.006585},{"x":0.0063,"y":0.00658},
{"x":0.00497,"y":0.006455},{"x":0.00517,"y":0.00646},{"x":0.00537,"y":0.006455},{"x":0.00557,"y":0.00645},{"x":0.00577,"y":0.006455},{"x":0.00597,"y":0.00646},{"x":0.00617,"y":0.006455},
{"x":0.00503,"y":0.006325},{"x":0.00523,"y":0.00633},{"x":0.00543,"y":0.006325},{"x":0.00563,"y":0.00632},{"x":0.00583,"y":0.006325},{"x":0.00603,"y":0.00633},{"x":0.00623,"y":0.006325},
{"x":0.0051,"y":0.006195},{"x":0.0053,"y":0.0062},{"x":0.0055,"y":0.006195},{"x":0.0057,"y":0.00619},{"x":0.0059,"y":0.006195},{"x":0.0061,"y":0.0062},
{"x":0.00517,"y":0.006065},{"x":0.00537,"y":0.00607},{"x":0.00557,"y":0.006065},{"x":0.00577,"y":0.00606},{"x":0.00597,"y":0.006065},
{"x":0.00523,"y":0.005935},{"x":0.00543,"y":0.00594},{"x":0.00563,"y":0.005935},{"x":0.00583,"y":0.00593},
{"x":0.0053,"y":0.005805},{"x":0.0055,"y":0.00581},{"x":0.0057,"y":0.005805},{"x":0.0059,"y":0.0058},
{"x":0.00463,"y":0.0147},{"x":0.00517,"y":0.0147},{"x":0.0058,"y":0.01462},{"x":0.00588,"y":0.01449},{"x":0.0037,"y":0.01436},{"x":0.00339,"y":0.01411},{"x":0.00345,"y":0.0139},{"x":0.00299,"y":0.01343},{"x":0.00566,"y":0.01402},{"x":0.00607,"y":0.01365},{"x":0.00667,"y":0.01334},{"x":0.00725,"y":0.01283},{"x":0.00725,"y":0.01278},{"x":0.00667,"y":0.01278},{"x":0.0075,"y":0.01196},{"x":0.00318,"y":0.01245},{"x":0.00339,"y":0.01292},{"x":0.00361,"y":0.01324},{"x":0.00407,"y":0.01386},{"x":0.0043,"y":0.01418},{"x":0.00456,"y":0.01444},{"x":0.00485,"y":0.01455},{"x":0.00552,"y":0.01455},{"x":0.00532,"y":0.01462},{"x":0.00596,"y":0.0135},{"x":0.0063,"y":0.01338},{"x":0.00619,"y":0.01321},{"x":0.00648,"y":0.0129},{"x":0.00677,"y":0.01255},{"x":0.00654,"y":0.01245},{"x":0.00695,"y":0.01216},{"x":0.00677,"y":0.0121},{"x":0.0037,"y":0.01289},{"x":0.00358,"y":0.01248},{"x":0.00347,"y":0.01213},{"x":0.00376,"y":0.01219},{"x":0.0032,"y":0.013},{"x":0.00332,"y":0.01241},{"x":0.00346,"y":0.01261},{"x":0.0039,"y":0.0131},{"x":0.00385,"y":0.0127},{"x":0.00405,"y":0.01295},{"x":0.0041,"y":0.0134},{"x":0.0042,"y":0.0137},{"x":0.0063,"y":0.013},{"x":0.00655,"y":0.0122},{"x":0.0066,"y":0.01262},{"x":0.0069,"y":0.0124},{"x":0.0071,"y":0.0123},{"x":0.0064,"y":0.0136},{"x":0.0059,"y":0.0143},{"x":0.0044,"y":0.014},{"x":0.00485,"y":0.0144},{"x":0.00395,"y":0.0123},{"x":0.004,"y":0.01315},
{"x":0.00332,"y":0.01157},{"x":0.00347,"y":0.01104},{"x":0.00335,"y":0.01034},{"x":0.00323,"y":0.00985},{"x":0.00291,"y":0.00953},{"x":0.00332,"y":0.0095},{"x":0.00323,"y":0.00897},{"x":0.00347,"y":0.00888},{"x":0.00294,"y":0.00812},{"x":0.00315,"y":0.00806},{"x":0.00344,"y":0.008},{"x":0.00286,"y":0.00771},{"x":0.00326,"y":0.0073},{"x":0.00373,"y":0.00724},{"x":0.00405,"y":0.00709},{"x":0.00364,"y":0.00765},{"x":0.00364,"y":0.0116},{"x":0.00358,"y":0.01128},{"x":0.00376,"y":0.01064},{"x":0.0037,"y":0.01017},{"x":0.00376,"y":0.00958},{"x":0.00382,"y":0.00859},{"x":0.00379,"y":0.00917},{"x":0.00388,"y":0.00824},{"x":0.00344,"y":0.01153},{"x":0.00354,"y":0.01168},{"x":0.00373,"y":0.01182},{"x":0.00385,"y":0.01202},{"x":0.00344,"y":0.01114},{"x":0.00354,"y":0.01124},{"x":0.00344,"y":0.01065},{"x":0.00324,"y":0.01045},{"x":0.00379,"y":0.01074},{"x":0.0032,"y":0.00996},{"x":0.00332,"y":0.01006},{"x":0.00354,"y":0.01006},{"x":0.00367,"y":0.01025},{"x":0.00373,"y":0.00947},{"x":0.00379,"y":0.00907},{"x":0.00367,"y":0.00868},{"x":0.00379,"y":0.00839},{"x":0.00385,"y":0.0079},{"x":0.00367,"y":0.0079},{"x":0.00373,"y":0.0074},{"x":0.00385,"y":0.00711},{"x":0.00414,"y":0.0076},{"x":0.00408,"y":0.0073},{"x":0.00426,"y":0.0072},{"x":0.00292,"y":0.00966},{"x":0.00329,"y":0.00961},{"x":0.00326,"y":0.00917},{"x":0.00342,"y":0.00902},{"x":0.00294,"y":0.00829},{"x":0.00311,"y":0.00824},{"x":0.00342,"y":0.00819},{"x":0.00286,"y":0.0079},{"x":0.00326,"y":0.0075},{"x":0.004,"y":0.008},{"x":0.00395,"y":0.0088},{"x":0.004,"y":0.0093},{"x":0.00395,"y":0.0105},{"x":0.004,"y":0.011},{"x":0.0039,"y":0.0114},{"x":0.00405,"y":0.0119},{"x":0.00398,"y":0.0099},{"x":0.00402,"y":0.0102},{"x":0.0039,"y":0.0085},{"x":0.0041,"y":0.0083},{"x":0.00405,"y":0.0079},{"x":0.00415,"y":0.007},{"x":0.00425,"y":0.0069},{"x":0.0041,"y":0.0123},
{"x":0.00759,"y":0.01167},{"x":0.00736,"y":0.01155},{"x":0.00762,"y":0.01106},{"x":0.00788,"y":0.01089},{"x":0.00811,"y":0.01057},{"x":0.00811,"y":0.01025},{"x":0.00794,"y":0.0101},{"x":0.00768,"y":0.00975},{"x":0.00756,"y":0.0096},{"x":0.00733,"y":0.0101},{"x":0.00736,"y":0.00824},{"x":0.00699,"y":0.00768},{"x":0.00667,"y":0.00739},{"x":0.00655,"y":0.00692},{"x":0.00721,"y":0.00978},{"x":0.00742,"y":0.01072},{"x":0.00719,"y":0.01118},{"x":0.00713,"y":0.01177},{"x":0.00725,"y":0.00932},{"x":0.00713,"y":0.00902},{"x":0.00719,"y":0.0085},{"x":0.0069,"y":0.00803},{"x":0.00678,"y":0.00745},{"x":0.0069,"y":0.0115},{"x":0.00685,"y":0.011},{"x":0.00695,"y":0.0106},{"x":0.007,"y":0.0103},{"x":0.0068,"y":0.01},{"x":0.0069,"y":0.0097},{"x":0.00675,"y":0.0094},{"x":0.00685,"y":0.0091},{"x":0.0067,"y":0.0088},{"x":0.0068,"y":0.0085},{"x":0.00665,"y":0.0082},{"x":0.0067,"y":0.0079},{"x":0.0066,"y":0.0076},{"x":0.00675,"y":0.0119},{"x":0.0067,"y":0.0113},{"x":0.00675,"y":0.0108},{"x":0.0067,"y":0.0104},{"x":0.00665,"y":0.0099},{"x":0.00665,"y":0.0092},{"x":0.0066,"y":0.0087},{"x":0.00655,"y":0.008},{"x":0.00655,"y":0.0072},{"x":0.00665,"y":0.0122},{"x":0.00705,"y":0.0119},{"x":0.0073,"y":0.01045},{"x":0.00745,"y":0.0099},{"x":0.00705,"y":0.0095},{"x":0.00695,"y":0.0088},{"x":0.007,"y":0.0083},
{"x":0.0032,"y":0.00633},{"x":0.00352,"y":0.00659},{"x":0.00364,"y":0.00685},{"x":0.00364,"y":0.00612},{"x":0.00376,"y":0.00633},{"x":0.00393,"y":0.00602},{"x":0.00457,"y":0.00659},{"x":0.0048,"y":0.00638},{"x":0.00491,"y":0.006},{"x":0.00497,"y":0.00571},{"x":0.00509,"y":0.00539},{"x":0.00538,"y":0.00545},{"x":0.00585,"y":0.00542},{"x":0.00614,"y":0.00554},{"x":0.00632,"y":0.00595},{"x":0.00675,"y":0.00667},{"x":0.00643,"y":0.0068},{"x":0.00583,"y":0.00566},{"x":0.00563,"y":0.00586},{"x":0.00526,"y":0.00574},{"x":0.00514,"y":0.00615},{"x":0.00551,"y":0.00627},{"x":0.00597,"y":0.00615},{"x":0.00608,"y":0.00638},{"x":0.0062,"y":0.00667},{"x":0.00574,"y":0.00598},{"x":0.00533,"y":0.00668},{"x":0.00504,"y":0.0068},{"x":0.00445,"y":0.00675},{"x":0.0043,"y":0.0066},{"x":0.0046,"y":0.0063},{"x":0.00475,"y":0.0061},{"x":0.005,"y":0.0059},{"x":0.0056,"y":0.0056},{"x":0.006,"y":0.0058},{"x":0.00625,"y":0.0061},{"x":0.0065,"y":0.0065},{"x":0.00635,"y":0.0069},{"x":0.0042,"y":0.0069},{"x":0.0039,"y":0.0067},
{"x":0.00226,"y":0.01162},{"x":0.00629,"y":0.0167},{"x":0.00415,"y":0.01557},{"x":0.0042,"y":0.0153},{"x":0.00515,"y":0.0152},{"x":0.00523,"y":0.0152},{"x":0.00532,"y":0.0152}
],
"t2":[
{"x":0.00569,"y":0.00349},{"x":0.00571,"y":0.00342},{"x":0.00568,"y":0.00336},{"x":0.0057,"y":0.0033},{"x":0.00569,"y":0.00324},{"x":0.00572,"y":0.00317},{"x":0.0057,"y":0.0031},{"x":0.00566,"y":0.00332},{"x":0.00573,"y":0.00345},
{"x":0.00576,"y":0.00305},{"x":0.0058,"y":0.00295},{"x":0.00586,"y":0.0029},{"x":0.00592,"y":0.00292},{"x":0.00596,"y":0.00298},{"x":0.00597,"y":0.00306},{"x":0.00594,"y":0.00312},{"x":0.00588,"y":0.00308},{"x":0.00583,"y":0.003},{"x":0.00578,"y":0.00312},{"x":0.0059,"y":0.003},{"x":0.00584,"y":0.0031},{"x":0.00574,"y":0.00296},{"x":0.00598,"y":0.00312},{"x":0.00592,"y":0.00314},{"x":0.00588,"y":0.00288},{"x":0.0058,"y":0.00288},
{"x":0.00679,"y":0.00338},{"x":0.00678,"y":0.0033},{"x":0.0068,"y":0.00322},{"x":0.00679,"y":0.00314},{"x":0.00678,"y":0.00306},{"x":0.00681,"y":0.003},{"x":0.00677,"y":0.00318},{"x":0.0068,"y":0.00334},{"x":0.00681,"y":0.00347},
{"x":0.00615,"y":0.00402},{"x":0.00602,"y":0.00383},{"x":0.00609,"y":0.00386},{"x":0.0065,"y":0.00418},{"x":0.00649,"y":0.00402},{"x":0.00651,"y":0.0041},{"x":0.0075,"y":0.00418},{"x":0.00782,"y":0.00402},{"x":0.00786,"y":0.00391},{"x":0.00784,"y":0.00396},{"x":0.00732,"y":0.00356},{"x":0.00721,"y":0.00341},{"x":0.00678,"y":0.00248}
],
"tn":[{"x":0.00558,"y":0.00518},{"x":0.0064,"y":0.00506},{"x":0.00685,"y":0.00522},{"x":0.00441,"y":0.00443},{"x":0.00553,"y":0.00443},{"x":0.00646,"y":0.00427},{"x":0.00691,"y":0.0045},{"x":0.00693,"y":0.00442},{"x":0.00689,"y":0.00435},{"x":0.00692,"y":0.00428},{"x":0.0069,"y":0.00422},{"x":0.00694,"y":0.00436},{"x":0.00688,"y":0.00445}],
"ts":[{"x":0.00514,"y":0.01233},{"x":0.00564,"y":0.00336}],
"d1":[{"x":0.00466,"y":0.00507},{"x":0.0047,"y":0.00505},{"x":0.00466,"y":0.00495},{"x":0.00472,"y":0.00485},{"x":0.00468,"y":0.00475},{"x":0.00474,"y":0.00462},{"x":0.0047,"y":0.0045},{"x":0.00478,"y":0.0044},{"x":0.00482,"y":0.00428},{"x":0.00486,"y":0.00415},{"x":0.0049,"y":0.00405},{"x":0.00493,"y":0.00395},{"x":0.00496,"y":0.00385},{"x":0.005,"y":0.00375},{"x":0.00503,"y":0.00362},{"x":0.00498,"y":0.00352},{"x":0.00492,"y":0.00348},{"x":0.00476,"y":0.00498},{"x":0.0048,"y":0.00435},{"x":0.00475,"y":0.0042},{"x":0.00485,"y":0.0039},{"x":0.00495,"y":0.00365},{"x":0.00468,"y":0.00488},{"x":0.00472,"y":0.0047},{"x":0.00529,"y":0.00296},{"x":0.0054,"y":0.00302},{"x":0.00524,"y":0.00286},{"x":0.00535,"y":0.0029},{"x":0.00452,"y":0.00225},{"x":0.00468,"y":0.00197},{"x":0.00493,"y":0.00214},{"x":0.00502,"y":0.00178},{"x":0.00483,"y":0.00204},{"x":0.00632,"y":0.00327},{"x":0.00616,"y":0.00312},{"x":0.00611,"y":0.00286},{"x":0.00611,"y":0.00271},{"x":0.00616,"y":0.00245},{"x":0.00627,"y":0.00302},{"x":0.0062,"y":0.0029},{"x":0.00625,"y":0.0032}],
"d2":[{"x":0.01006,"y":0.00078},{"x":0.01042,"y":0.00096},{"x":0.01047,"y":0.00055},{"x":0.01068,"y":0.00045},{"x":0.01078,"y":0.00066},{"x":0.01109,"y":0.00119},{"x":0.01098,"y":0.00081},{"x":0.01129,"y":0.00066},{"x":0.01119,"y":0.0},{"x":0.0114,"y":0.0},{"x":0.0116,"y":0.00004},{"x":0.01181,"y":0.00014},{"x":0.01201,"y":0.0},{"x":0.01222,"y":0.00025},{"x":0.0124,"y":0.00086},{"x":0.01242,"y":0.00004},{"x":0.01263,"y":0.0},{"x":0.01283,"y":0.00025},{"x":0.01293,"y":0.00081},{"x":0.01309,"y":0.00122},{"x":0.01312,"y":0.0015},{"x":0.01334,"y":0.00081},{"x":0.01288,"y":0.0},{"x":0.01304,"y":0.00012},{"x":0.0117,"y":0.00045},{"x":0.0115,"y":0.00025},{"x":0.01206,"y":0.00035},{"x":0.01098,"y":0.0},{"x":0.01227,"y":0.0},{"x":0.01252,"y":0.00025},{"x":0.01129,"y":0.00025},{"x":0.01191,"y":0.00055},{"x":0.01217,"y":0.00066},{"x":0.01273,"y":0.00035},{"x":0.01298,"y":0.00025}],
"d3":[{"x":0.0014,"y":0.00584},{"x":0.0015,"y":0.00573},{"x":0.00145,"y":0.00558},{"x":0.00134,"y":0.00543},{"x":0.00155,"y":0.00537},{"x":0.00145,"y":0.00522},{"x":0.00078,"y":0.0044},{"x":0.00093,"y":0.00455},{"x":0.00104,"y":0.00435},{"x":0.00088,"y":0.0042},{"x":0.00114,"y":0.00404},{"x":0.00093,"y":0.00384},{"x":0.00083,"y":0.00373},{"x":0.00109,"y":0.00445},{"x":0.00165,"y":0.00486},{"x":0.00191,"y":0.00476},{"x":0.00175,"y":0.00435},{"x":0.0016,"y":0.00404},{"x":0.00186,"y":0.00394},{"x":0.00206,"y":0.00368},{"x":0.00134,"y":0.00353},{"x":0.00155,"y":0.00332},{"x":0.0017,"y":0.00343},{"x":0.0016,"y":0.00312},{"x":0.0018,"y":0.00312},{"x":0.00145,"y":0.00363},{"x":0.00175,"y":0.00373},{"x":0.00155,"y":0.00435},{"x":0.00134,"y":0.00384},{"x":0.00165,"y":0.00302},{"x":0.00124,"y":0.00343},{"x":0.00273,"y":0.00389},{"x":0.00278,"y":0.00373},{"x":0.00273,"y":0.00312},{"x":0.00263,"y":0.00368},{"x":0.001,"y":0.0041},{"x":0.0012,"y":0.0042},{"x":0.0013,"y":0.0045},{"x":0.0015,"y":0.0046},{"x":0.0017,"y":0.0046},{"x":0.0018,"y":0.0041},{"x":0.0014,"y":0.0039},{"x":0.0016,"y":0.0037},{"x":0.0019,"y":0.0035},{"x":0.0015,"y":0.0034},{"x":0.0017,"y":0.0033},{"x":0.0012,"y":0.0037},{"x":0.00095,"y":0.00425},{"x":0.00105,"y":0.00395},{"x":0.00185,"y":0.0045},{"x":0.00145,"y":0.005}],
"dn":[{"x":0.00765,"y":0.00266},{"x":0.00726,"y":0.00089},{"x":0.00837,"y":0.00122},{"x":0.00857,"y":0.00127},{"x":0.00883,"y":0.00127},{"x":0.00914,"y":0.00137},{"x":0.00934,"y":0.00143},{"x":0.0095,"y":0.00127},{"x":0.00888,"y":0.00081},{"x":0.00883,"y":0.00035},{"x":0.00883,"y":0.00009},{"x":0.00934,"y":0.00055},{"x":0.0096,"y":0.0005},{"x":0.00996,"y":0.00014},{"x":0.01011,"y":0.00025},{"x":0.00873,"y":0.00107}],
"ds":[{"x":0.00165,"y":0.00446},{"x":0.00493,"y":0.00371},{"x":0.01186,"y":0.00066}],
"l1":[{"x":0.00471,"y":0.005},{"x":0.00468,"y":0.00485},{"x":0.00468,"y":0.0046},{"x":0.00476,"y":0.00401},{"x":0.00481,"y":0.00389},{"x":0.00496,"y":0.00357},{"x":0.00491,"y":0.00371},{"x":0.0052,"y":0.00293},{"x":0.0053,"y":0.00298},{"x":0.00513,"y":0.00288},{"x":0.00446,"y":0.00309},{"x":0.00444,"y":0.00233},{"x":0.00468,"y":0.00194},{"x":0.00479,"y":0.00204},{"x":0.00609,"y":0.00283},{"x":0.00619,"y":0.00293},{"x":0.00629,"y":0.00248}],
"l2":[{"x":0.01042,"y":0.00044},{"x":0.01121,"y":0.00162},{"x":0.01101,"y":0.00105},{"x":0.01286,"y":0.00108},{"x":0.01156,"y":0.00061},{"x":0.01136,"y":0.00027},{"x":0.01126,"y":0.00002},{"x":0.01151,"y":0.00002},{"x":0.01161,"y":0.00027},{"x":0.01205,"y":0.00056},{"x":0.01215,"y":0.00051},{"x":0.01195,"y":0.00017},{"x":0.012,"y":0.00002},{"x":0.01239,"y":0.00017},{"x":0.01254,"y":0.00025},{"x":0.01264,"y":0.00029},{"x":0.01185,"y":0.00032},{"x":0.01146,"y":0.00017},{"x":0.01116,"y":0.00032}],
"l3":[{"x":0.00151,"y":0.00578},{"x":0.00156,"y":0.00563},{"x":0.00171,"y":0.00548},{"x":0.00141,"y":0.00534},{"x":0.00161,"y":0.00519},{"x":0.00176,"y":0.00499},{"x":0.00136,"y":0.00485},{"x":0.00156,"y":0.0047},{"x":0.00176,"y":0.0046},{"x":0.00097,"y":0.0047},{"x":0.00087,"y":0.00445},{"x":0.00111,"y":0.00431},{"x":0.00151,"y":0.0044},{"x":0.00101,"y":0.00411},{"x":0.00097,"y":0.00391},{"x":0.00131,"y":0.00381},{"x":0.00166,"y":0.00381},{"x":0.00156,"y":0.00357},{"x":0.00161,"y":0.00342},{"x":0.00131,"y":0.00332},{"x":0.00166,"y":0.00322},{"x":0.00156,"y":0.00307},{"x":0.002,"y":0.0033},{"x":0.00234,"y":0.00399},{"x":0.00176,"y":0.00401},{"x":0.00082,"y":0.00455},{"x":0.00162,"y":0.00345},{"x":0.00166,"y":0.00338},{"x":0.0016,"y":0.00328},{"x":0.00168,"y":0.00325},{"x":0.00164,"y":0.0035},{"x":0.00158,"y":0.0036}],
"ln":[{"x":0.00163,"y":0.00182},{"x":0.00274,"y":0.00401},{"x":0.00287,"y":0.00393},{"x":0.00271,"y":0.00253},{"x":0.00681,"y":0.00448},{"x":0.00769,"y":0.00238},{"x":0.00813,"y":0.00273},{"x":0.00776,"y":0.00166},{"x":0.0088,"y":0.00127},{"x":0.00929,"y":0.00165},{"x":0.00875,"y":0.00068},{"x":0.00909,"y":0.00056},{"x":0.00924,"y":0.00068},{"x":0.00964,"y":0.00051},{"x":0.00983,"y":0.00058},{"x":0.00998,"y":0.00066},{"x":0.00988,"y":0.00001},{"x":0.00978,"y":0.00041}],
"ls":[{"x":0.00167,"y":0.00426},{"x":0.00491,"y":0.00371},{"x":0.01161,"y":0.00061}]
},
"concat":[
{
"width":404,"height":894,
"title":{"text":["Clustering SMACOF Tomato","MDS Representations"],"offset":21},
"view":{"stroke":"#000","strokeWidth":1.6},
"encoding":{
"x":{"field":"x","type":"quantitative","scale":{"domain":[0.00165,0.008737],"nice":false,"zero":false},"axis":{"values":[0.002,0.004,0.006,0.008],"format":".3f","title":"𝑐₁: Maximum Bar Length"}},
"y":{"field":"y","type":"quantitative","scale":{"domain":[0.00175,0.017362],"nice":false,"zero":false},"axis":{"values":[0.002,0.004,0.006,0.008,0.010,0.012,0.014,0.016],"format":".3f","title":"𝑐₂: Sum of Remaining Bar Lengths"}}
},
"layer":[
{"data":{"name":"t1"},"mark":{"type":"point","size":169,"strokeWidth":2,"opacity":1},
"encoding":{
"stroke":{"datum":"Cluster 1","scale":{"domain":["Cluster 1","Cluster 2","Noise","Min. Stress"],"range":["#74b6e6","#ff7f0e","#c0c0c0","#000000"]},"legend":{"title":null,"legendX":31,"legendY":-70}},
"fill":{"datum":"Cluster 1","scale":{"domain":["Cluster 1","Cluster 2","Noise","Min. Stress"],"range":["transparent","transparent","#c0c0c0","#000000"]},"legend":{"title":null,"legendX":31,"legendY":-70}},
"shape":{"datum":"Cluster 1","scale":{"domain":["Cluster 1","Cluster 2","Noise","Min. Stress"],"range":["square","circle","M-0.5,-1L0,-0.5L0.5,-1L1,-0.5L0.5,0L1,0.5L0.5,1L0,0.5L-0.5,1L-1,0.5L-0.5,0L-1,-0.5Z","M0,-1L0.2245,-0.309L0.951,-0.309L0.3633,0.118L0.5878,0.809L0,0.382L-0.5878,0.809L-0.3633,0.118L-0.951,-0.309L-0.2245,-0.309Z"]},"legend":{"title":null,"legendX":31,"legendY":-70}}
}},
{"data":{"name":"t2"},"mark":{"type":"point","size":169,"strokeWidth":2,"opacity":1},"encoding":{"stroke":{"datum":"Cluster 2"},"fill":{"datum":"Cluster 2"},"shape":{"datum":"Cluster 2"}}},
{"data":{"name":"tn"},"mark":{"type":"point","size":169,"strokeWidth":2,"opacity":1},"encoding":{"stroke":{"datum":"Noise"},"fill":{"datum":"Noise"},"shape":{"datum":"Noise"}}},
{"data":{"name":"ts"},"mark":{"type":"point","size":169,"strokeWidth":2,"opacity":1},"encoding":{"stroke":{"datum":"Min. Stress"},"fill":{"datum":"Min. Stress"},"shape":{"datum":"Min. Stress"}}}
]
},
{
"vconcat":[
{
"width":443,"height":227,
"title":{"text":["Clustering SMACOF Duck","MDS Representations"]},
"encoding":{
"x":{"field":"x","type":"quantitative","scale":{"domain":[0.000241,0.013842],"nice":false,"zero":false},"axis":{"values":[0.002,0.004,0.006,0.008,0.010,0.012],"format":".3f","title":"𝑐₁: Maximum Bar Length"}},
"y":{"field":"y","type":"quantitative","scale":{"domain":[-0.000595,0.006359],"nice":false,"zero":false},"axis":{"values":[0,0.002,0.004,0.006],"format":".3f","title":"𝑐₂: Sum of Remaining Bar Lengths"}}
},
"layer":[
{"data":{"name":"d1"},"mark":{"type":"point","size":169,"strokeWidth":2,"opacity":1},
"encoding":{
"stroke":{"datum":"Cluster 1","scale":{"domain":["Cluster 1","Cluster 2","Cluster 3","Noise","Min. Stress"],"range":["#74b6e6","#ff7f0e","#5ac85a","#c0c0c0","#000000"]},"legend":{"title":null,"legendX":52,"legendY":-96,"rowPadding":4}},
"fill":{"datum":"Cluster 1","scale":{"domain":["Cluster 1","Cluster 2","Cluster 3","Noise","Min. Stress"],"range":["transparent","transparent","transparent","#c0c0c0","#000000"]},"legend":{"title":null,"legendX":52,"legendY":-96,"rowPadding":4}},
"shape":{"datum":"Cluster 1","scale":{"domain":["Cluster 1","Cluster 2","Cluster 3","Noise","Min. Stress"],"range":["square","circle","M0,-1.414L0.849,0L0,1.414L-0.849,0Z","M-0.5,-1L0,-0.5L0.5,-1L1,-0.5L0.5,0L1,0.5L0.5,1L0,0.5L-0.5,1L-1,0.5L-0.5,0L-1,-0.5Z","M0,-1L0.2245,-0.309L0.951,-0.309L0.3633,0.118L0.5878,0.809L0,0.382L-0.5878,0.809L-0.3633,0.118L-0.951,-0.309L-0.2245,-0.309Z"]},"legend":{"title":null,"legendX":52,"legendY":-96,"rowPadding":4}}
}},
{"data":{"name":"d2"},"mark":{"type":"point","size":169,"strokeWidth":2,"opacity":1},"encoding":{"stroke":{"datum":"Cluster 2"},"fill":{"datum":"Cluster 2"},"shape":{"datum":"Cluster 2"}}},
{"data":{"name":"d3"},"mark":{"type":"point","size":169,"strokeWidth":2,"opacity":1},"encoding":{"stroke":{"datum":"Cluster 3"},"fill":{"datum":"Cluster 3"},"shape":{"datum":"Cluster 3"}}},
{"data":{"name":"dn"},"mark":{"type":"point","size":169,"strokeWidth":2,"opacity":1},"encoding":{"stroke":{"datum":"Noise"},"fill":{"datum":"Noise"},"shape":{"datum":"Noise"}}},
{"data":{"name":"ds"},"mark":{"type":"point","size":169,"strokeWidth":2,"opacity":1},"encoding":{"stroke":{"datum":"Min. Stress"},"fill":{"datum":"Min. Stress"},"shape":{"datum":"Min. Stress"}}},
{"mark":{"type":"rule","color":"#000","strokeWidth":1.6},"encoding":{"x":{"datum":0.000241},"x2":{"datum":0.013842},"y":{"datum":0.006359}}}
]
},
{
"width":443,"height":233,
"title":{"text":["Clustering Least-Squares Duck","MDS Representations"]},
"encoding":{
"x":{"field":"x","type":"quantitative","scale":{"domain":[0.000256,0.013351],"nice":false,"zero":false},"axis":{"values":[0.002,0.004,0.006,0.008,0.010,0.012],"format":".3f","title":["𝑐₁: Maximum Bar Length",""],"titleLineHeight":38}},
"y":{"field":"y","type":"quantitative","scale":{"domain":[-0.0006,0.006296],"nice":false,"zero":false},"axis":{"values":[0,0.002,0.004,0.006],"format":".3f","title":"𝑐₂: Sum of Remaining Bar Lengths"}}
},
"layer":[
{"data":{"name":"l1"},"mark":{"type":"point","size":169,"strokeWidth":2,"opacity":1},
"encoding":{
"stroke":{"datum":"Cluster 1","scale":{"domain":["Cluster 1","Cluster 2","Cluster 3","Noise","Min. Stress"],"range":["#74b6e6","#ff7f0e","#5ac85a","#c0c0c0","#000000"]},"legend":{"title":null,"legendX":52,"legendY":-97,"rowPadding":4}},
"fill":{"datum":"Cluster 1","scale":{"domain":["Cluster 1","Cluster 2","Cluster 3","Noise","Min. Stress"],"range":["transparent","transparent","transparent","#c0c0c0","#000000"]},"legend":{"title":null,"legendX":52,"legendY":-97,"rowPadding":4}},
"shape":{"datum":"Cluster 1","scale":{"domain":["Cluster 1","Cluster 2","Cluster 3","Noise","Min. Stress"],"range":["square","circle","M0,-1.414L0.849,0L0,1.414L-0.849,0Z","M-0.5,-1L0,-0.5L0.5,-1L1,-0.5L0.5,0L1,0.5L0.5,1L0,0.5L-0.5,1L-1,0.5L-0.5,0L-1,-0.5Z","M0,-1L0.2245,-0.309L0.951,-0.309L0.3633,0.118L0.5878,0.809L0,0.382L-0.5878,0.809L-0.3633,0.118L-0.951,-0.309L-0.2245,-0.309Z"]},"legend":{"title":null,"legendX":52,"legendY":-97,"rowPadding":4}}
}},
{"data":{"name":"l2"},"mark":{"type":"point","size":169,"strokeWidth":2,"opacity":1},"encoding":{"stroke":{"datum":"Cluster 2"},"fill":{"datum":"Cluster 2"},"shape":{"datum":"Cluster 2"}}},
{"data":{"name":"l3"},"mark":{"type":"point","size":169,"strokeWidth":2,"opacity":1},"encoding":{"stroke":{"datum":"Cluster 3"},"fill":{"datum":"Cluster 3"},"shape":{"datum":"Cluster 3"}}},
{"data":{"name":"ln"},"mark":{"type":"point","size":169,"strokeWidth":2,"opacity":1},"encoding":{"stroke":{"datum":"Noise"},"fill":{"datum":"Noise"},"shape":{"datum":"Noise"}}},
{"data":{"name":"ls"},"mark":{"type":"point","size":169,"strokeWidth":2,"opacity":1},"encoding":{"stroke":{"datum":"Min. Stress"},"fill":{"datum":"Min. Stress"},"shape":{"datum":"Min. Stress"}}},
{"mark":{"type":"rule","color":"#000","strokeWidth":1.6},"encoding":{"x":{"datum":0.000256},"x2":{"datum":0.013351},"y":{"datum":0.006296}}}
]
}
],
"spacing":66,
"resolve":{"scale":{"x":"independent","y":"independent","stroke":"independent","fill":"independent","shape":"independent"},"legend":{"stroke":"independent","fill":"independent","shape":"independent"}}
}
],
"columns":2,
"align":"each",
"center":true,
"spacing":80,
"resolve":{"scale":{"x":"independent","y":"independent","stroke":"independent","fill":"independent","shape":"independent"},"legend":{"stroke":"independent","fill":"independent","shape":"independent"}}
}
